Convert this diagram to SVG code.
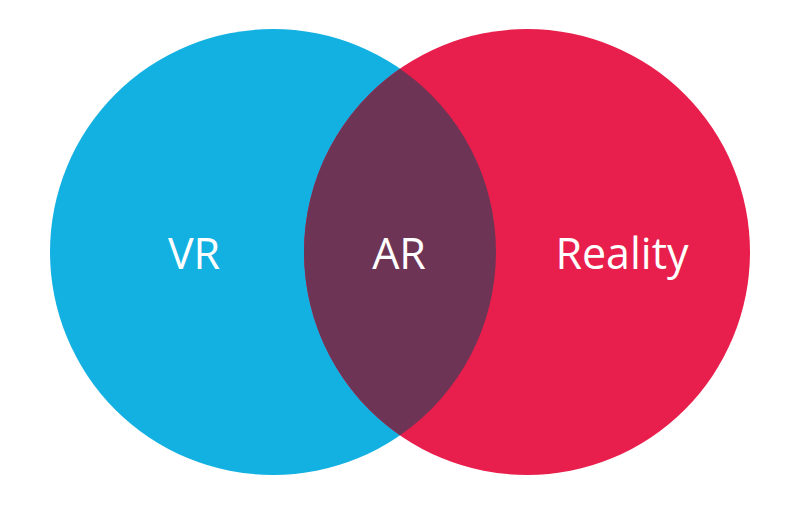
<svg xmlns="http://www.w3.org/2000/svg" width="800" height="515" viewBox="0 0 800 515">
  <style>
    .lbl { font-family: "Open Sans", "Noto Sans", "Liberation Sans", sans-serif; font-size: 43px; fill: #ffffff; text-anchor: middle; }
  </style>
  <rect x="0" y="0" width="800" height="515" fill="#ffffff"/>
  <g id="vr">
    <circle cx="273" cy="252" r="223" fill="#13B1E1"/>
  </g>
  <g id="reality">
    <circle cx="527" cy="252" r="223" fill="#E81F4C"/>
  </g>
  <g id="ar">
    <path d="M400,68.7 A223,223 0 0 1 400,435.3 A223,223 0 0 1 400,68.7 Z" fill="#6E3455"/>
  </g>
  <g id="labels">
    <text class="lbl" x="194" y="269">VR</text>
    <text class="lbl" x="399" y="269">AR</text>
    <text class="lbl" x="622" y="269">Reality</text>
  </g>
  <g id="connectors"/>
</svg>
